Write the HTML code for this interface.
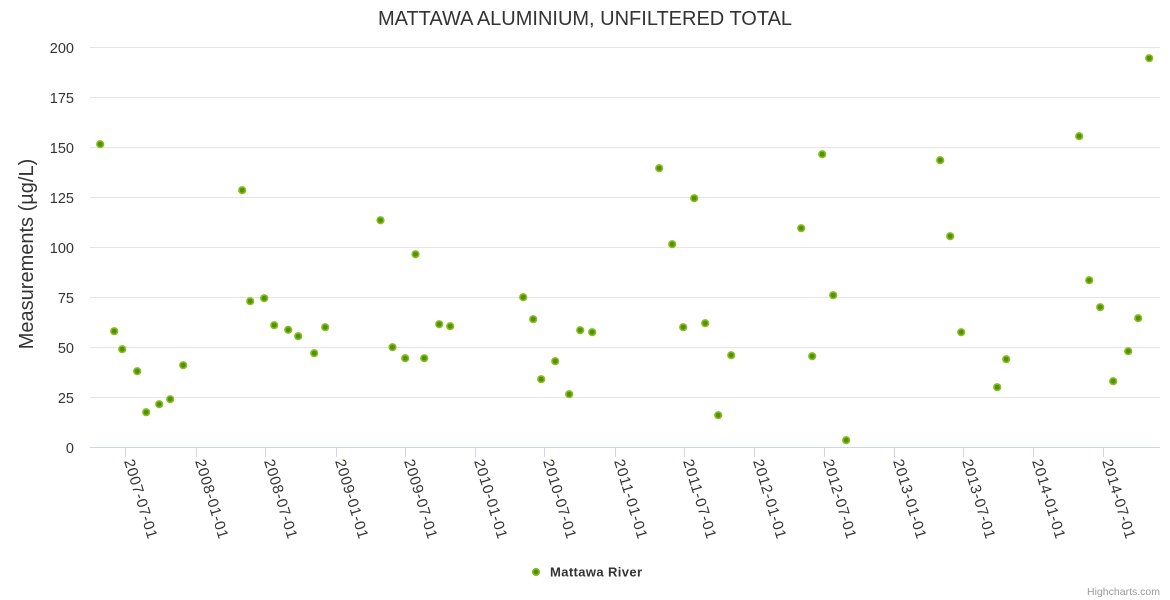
<!DOCTYPE html>
<html>
<head>
<meta charset="utf-8">
<style>
  html, body { margin:0; padding:0; background:#fff; }
  body { width:1170px; height:600px; overflow:hidden; }
  svg { display:block; font-family:"Liberation Sans", sans-serif; }
</style>
</head>
<body>
<svg width="1170" height="600" viewBox="0 0 1170 600" xmlns="http://www.w3.org/2000/svg">
  <rect x="0" y="0" width="1170" height="600" fill="#ffffff"/>

  <text x="585" y="25" text-anchor="middle" font-size="20" fill="#333333">MATTAWA ALUMINIUM, UNFILTERED TOTAL</text>

  <g stroke="#e6e6e6" stroke-width="1">
    <line x1="90" y1="47.5" x2="1160" y2="47.5"/>
    <line x1="90" y1="97.5" x2="1160" y2="97.5"/>
    <line x1="90" y1="147.5" x2="1160" y2="147.5"/>
    <line x1="90" y1="197.5" x2="1160" y2="197.5"/>
    <line x1="90" y1="247.5" x2="1160" y2="247.5"/>
    <line x1="90" y1="297.5" x2="1160" y2="297.5"/>
    <line x1="90" y1="347.5" x2="1160" y2="347.5"/>
    <line x1="90" y1="397.5" x2="1160" y2="397.5"/>
  </g>

  <g stroke="#ccd6eb" stroke-width="1">
    <line x1="90" y1="447.5" x2="1160" y2="447.5"/>
    <line x1="125.5" y1="447" x2="125.5" y2="457"/>
    <line x1="196.5" y1="447" x2="196.5" y2="457"/>
    <line x1="265.5" y1="447" x2="265.5" y2="457"/>
    <line x1="336.5" y1="447" x2="336.5" y2="457"/>
    <line x1="405.5" y1="447" x2="405.5" y2="457"/>
    <line x1="475.5" y1="447" x2="475.5" y2="457"/>
    <line x1="544.5" y1="447" x2="544.5" y2="457"/>
    <line x1="615.5" y1="447" x2="615.5" y2="457"/>
    <line x1="684.5" y1="447" x2="684.5" y2="457"/>
    <line x1="754.5" y1="447" x2="754.5" y2="457"/>
    <line x1="824.5" y1="447" x2="824.5" y2="457"/>
    <line x1="894.5" y1="447" x2="894.5" y2="457"/>
    <line x1="963.5" y1="447" x2="963.5" y2="457"/>
    <line x1="1033.5" y1="447" x2="1033.5" y2="457"/>
    <line x1="1103.5" y1="447" x2="1103.5" y2="457"/>
  </g>

  <g font-size="14.5" fill="#333333" text-anchor="end">
    <text x="74" y="53">200</text>
    <text x="74" y="103">175</text>
    <text x="74" y="153">150</text>
    <text x="74" y="203">125</text>
    <text x="74" y="253">100</text>
    <text x="74" y="303">75</text>
    <text x="74" y="353">50</text>
    <text x="74" y="403">25</text>
    <text x="74" y="453">0</text>
  </g>

  <text transform="translate(33,254) rotate(-90)" text-anchor="middle" font-size="20" fill="#333333">Measurements (µg/L)</text>

  <g font-size="15" fill="#333333">
    <text transform="translate(124,461) rotate(73)" textLength="82" lengthAdjust="spacing">2007-07-01</text>
    <text transform="translate(195,461) rotate(73)" textLength="82" lengthAdjust="spacing">2008-01-01</text>
    <text transform="translate(264,461) rotate(73)" textLength="82" lengthAdjust="spacing">2008-07-01</text>
    <text transform="translate(335,461) rotate(73)" textLength="82" lengthAdjust="spacing">2009-01-01</text>
    <text transform="translate(404,461) rotate(73)" textLength="82" lengthAdjust="spacing">2009-07-01</text>
    <text transform="translate(474,461) rotate(73)" textLength="82" lengthAdjust="spacing">2010-01-01</text>
    <text transform="translate(543,461) rotate(73)" textLength="82" lengthAdjust="spacing">2010-07-01</text>
    <text transform="translate(614,461) rotate(73)" textLength="82" lengthAdjust="spacing">2011-01-01</text>
    <text transform="translate(683,461) rotate(73)" textLength="82" lengthAdjust="spacing">2011-07-01</text>
    <text transform="translate(753,461) rotate(73)" textLength="82" lengthAdjust="spacing">2012-01-01</text>
    <text transform="translate(823,461) rotate(73)" textLength="82" lengthAdjust="spacing">2012-07-01</text>
    <text transform="translate(893,461) rotate(73)" textLength="82" lengthAdjust="spacing">2013-01-01</text>
    <text transform="translate(962,461) rotate(73)" textLength="82" lengthAdjust="spacing">2013-07-01</text>
    <text transform="translate(1032,461) rotate(73)" textLength="82" lengthAdjust="spacing">2014-01-01</text>
    <text transform="translate(1102,461) rotate(73)" textLength="82" lengthAdjust="spacing">2014-07-01</text>
  </g>

  <g fill="#4f9400" stroke="#8bbc21" stroke-width="1.6">
    <circle cx="100.2" cy="144.2" r="3.3"/>
    <circle cx="114.2" cy="331.2" r="3.3"/>
    <circle cx="122.2" cy="349.2" r="3.3"/>
    <circle cx="137.2" cy="371.2" r="3.3"/>
    <circle cx="146.2" cy="412.2" r="3.3"/>
    <circle cx="159.2" cy="404.2" r="3.3"/>
    <circle cx="170.2" cy="399.2" r="3.3"/>
    <circle cx="183.2" cy="365.2" r="3.3"/>
    <circle cx="242.2" cy="190.2" r="3.3"/>
    <circle cx="250.2" cy="301.2" r="3.3"/>
    <circle cx="264.2" cy="298.2" r="3.3"/>
    <circle cx="274.2" cy="325.2" r="3.3"/>
    <circle cx="288.2" cy="329.8" r="3.3"/>
    <circle cx="298.2" cy="336.2" r="3.3"/>
    <circle cx="314.2" cy="353.2" r="3.3"/>
    <circle cx="325.2" cy="327.2" r="3.3"/>
    <circle cx="380.5" cy="220.2" r="3.3"/>
    <circle cx="392.5" cy="347.2" r="3.3"/>
    <circle cx="405.2" cy="358.2" r="3.3"/>
    <circle cx="415.5" cy="254.2" r="3.3"/>
    <circle cx="424.2" cy="358.2" r="3.3"/>
    <circle cx="439.2" cy="324.2" r="3.3"/>
    <circle cx="450.2" cy="326.2" r="3.3"/>
    <circle cx="523.2" cy="297.2" r="3.3"/>
    <circle cx="533.2" cy="319.2" r="3.3"/>
    <circle cx="541.2" cy="379.2" r="3.3"/>
    <circle cx="555.2" cy="361.2" r="3.3"/>
    <circle cx="569.2" cy="394.2" r="3.3"/>
    <circle cx="580.2" cy="330.2" r="3.3"/>
    <circle cx="592.2" cy="332.2" r="3.3"/>
    <circle cx="659.2" cy="168.2" r="3.3"/>
    <circle cx="672.2" cy="244.2" r="3.3"/>
    <circle cx="683.2" cy="327.2" r="3.3"/>
    <circle cx="694.2" cy="198.2" r="3.3"/>
    <circle cx="705.2" cy="323.2" r="3.3"/>
    <circle cx="718.2" cy="415.2" r="3.3"/>
    <circle cx="731.2" cy="355.2" r="3.3"/>
    <circle cx="801.2" cy="228.2" r="3.3"/>
    <circle cx="812.2" cy="356.2" r="3.3"/>
    <circle cx="822.2" cy="154.2" r="3.3"/>
    <circle cx="833.2" cy="295.2" r="3.3"/>
    <circle cx="846.2" cy="440.2" r="3.3"/>
    <circle cx="940.2" cy="160.2" r="3.3"/>
    <circle cx="950.2" cy="236.2" r="3.3"/>
    <circle cx="961.2" cy="332.2" r="3.3"/>
    <circle cx="997.2" cy="387.2" r="3.3"/>
    <circle cx="1006.2" cy="359.2" r="3.3"/>
    <circle cx="1079.2" cy="136.2" r="3.3"/>
    <circle cx="1089.2" cy="280.2" r="3.3"/>
    <circle cx="1100.2" cy="307.2" r="3.3"/>
    <circle cx="1113.2" cy="381.2" r="3.3"/>
    <circle cx="1128.2" cy="351.2" r="3.3"/>
    <circle cx="1138.2" cy="318.2" r="3.3"/>
    <circle cx="1149.2" cy="58.2" r="3.3"/>
  </g>

  <circle cx="536" cy="572" r="3.3" fill="#4f9400" stroke="#8bbc21" stroke-width="1.6"/>
  <text x="550" y="576.5" font-size="13" font-weight="bold" fill="#333333" textLength="92" lengthAdjust="spacing">Mattawa River</text>

  <text x="1160" y="595" text-anchor="end" font-size="10.5" fill="#999999">Highcharts.com</text>
</svg>
</body>
</html>
